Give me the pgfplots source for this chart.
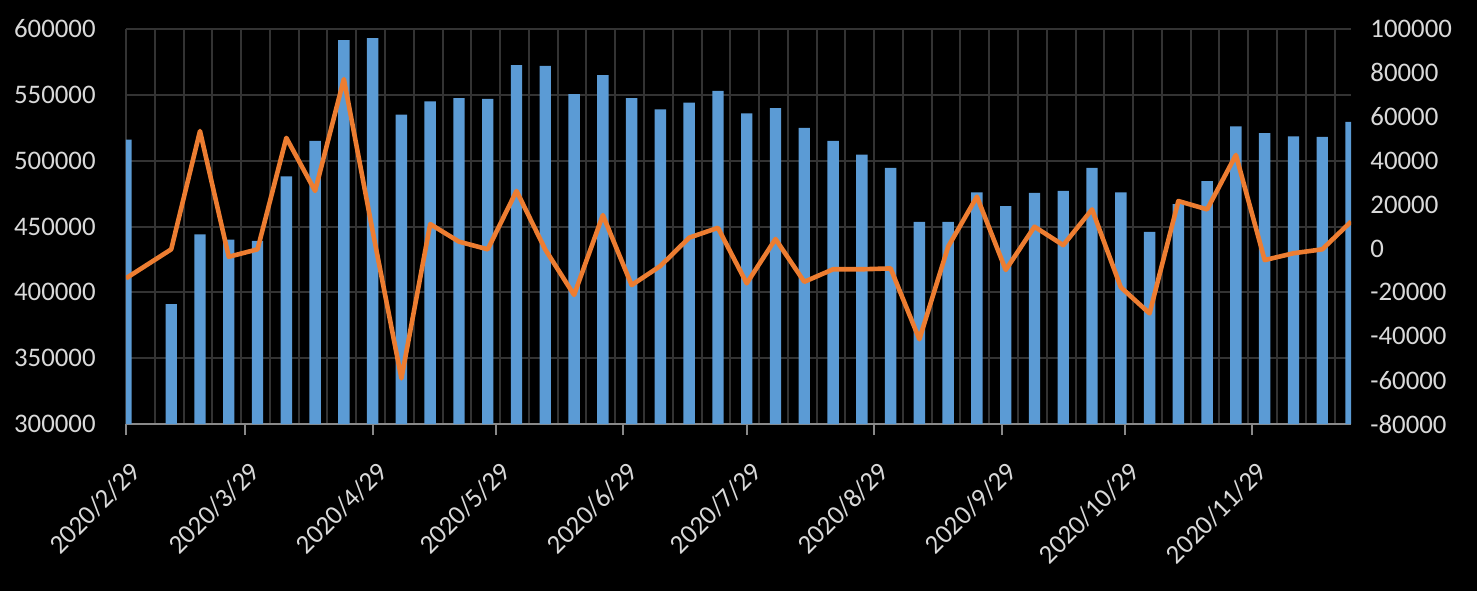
\documentclass[border=0pt]{standalone}
\usepackage{fontspec}
\setmainfont{Carlito}
\usepackage{pgfplots}
\usepackage{pgfplotstable}
\pgfplotsset{compat=1.18}
\definecolor{barblue}{HTML}{5B9BD5}
\definecolor{lineorange}{HTML}{ED7D31}
\definecolor{txt}{HTML}{D9D9D9}
\definecolor{gridc}{HTML}{333333}
\definecolor{axc}{HTML}{898989}

\pgfplotstableread{
x bar line
0 516000 -13600
11 391000 -400
18 444000 53500
25 440000 -3800
32 439000 -400
39 488000 50400
46 515000 26200
53 591500 77200
60 593000 7900
67 535000 -59200
74 545000 11100
81 547500 3100
88 547000 -400
95 572500 26200
102 572000 -500
109 550500 -21200
116 565000 15200
123 547500 -16700
130 539000 -8000
137 544000 4900
144 553000 9400
151 536000 -15900
158 540000 4300
165 525000 -15200
172 515000 -9500
179 504500 -9500
186 494500 -9100
193 453500 -41400
200 453500 800
207 476000 23600
214 465500 -9800
221 475500 9900
228 477000 1500
235 494500 17800
242 476000 -17700
249 446000 -29600
256 467000 21600
263 484500 17800
270 526000 42600
277 521000 -5300
284 518500 -2200
291 518000 -400
298 529500 12200
}\data

\pgfplotsset{
  common/.style={
    scale only axis, width=612.5bp, height=197.5bp,
    at={(0,0)}, anchor=south west,
    xmin=0, xmax=298,
    scaled ticks=false,
    tick label style={font=\fontsize{13.4bp}{15bp}\selectfont, text=txt},
  }
}

\begin{document}
\begin{tikzpicture}
\fill[black] (-63bp,-83.5bp) rectangle (675.5bp,212bp);
\useasboundingbox (-63bp,-83.5bp) rectangle (675.5bp,212bp);
\begin{axis}[common,
  ymin=300000, ymax=600000, ytick={300000,350000,400000,450000,500000,550000,600000},
  yticklabels={300000,350000,400000,450000,500000,550000,600000},
  ymajorgrids, major grid style={gridc, line width=1bp},
  xtick={0,29,60,90,121,151,182,213,243,274},
  xticklabels={2020/2/29,2020/3/29,2020/4/29,2020/5/29,2020/6/29,2020/7/29,2020/8/29,2020/9/29,2020/10/29,2020/11/29},
  minor xtick={7,14,...,294},
  xminorgrids, minor grid style={gridc, line width=1bp},
  minor tick length=0pt,
  axis x line*=bottom, axis y line*=left,
  x axis line style={axc, line width=1.25bp, -},
  y axis line style={gridc, line width=1bp, -},
  xtick style={axc, line width=1bp},
  major tick length=5.5bp, tick align=outside,
  ytick style={draw=none},
  xticklabel style={rotate=45, anchor=east, inner sep=0pt, xshift=-7.76bp, yshift=-14.92bp},
  yticklabel style={anchor=east, inner sep=0pt, xshift=-9.5bp},
]
\addplot[ybar, bar width=5.7bp, fill=barblue, draw=none] table[x=x,y=bar]{\data};
\end{axis}
\begin{axis}[common,
  ymin=-80000, ymax=100000, ytick={-80000,-60000,-40000,-20000,0,20000,40000,60000,80000,100000},
  yticklabels={-80000,-60000,-40000,-20000,0,20000,40000,60000,80000,100000},
  axis y line*=right, axis x line=none, xtick=\empty,
  y axis line style={draw=none}, ytick style={draw=none},
  yticklabel style={anchor=west, inner sep=0pt, xshift=9.5bp},
]
\addplot[lineorange, line width=2.3bp, line join=round, mark=none] table[x=x,y=line]{\data};
\end{axis}
\end{tikzpicture}
\end{document}
